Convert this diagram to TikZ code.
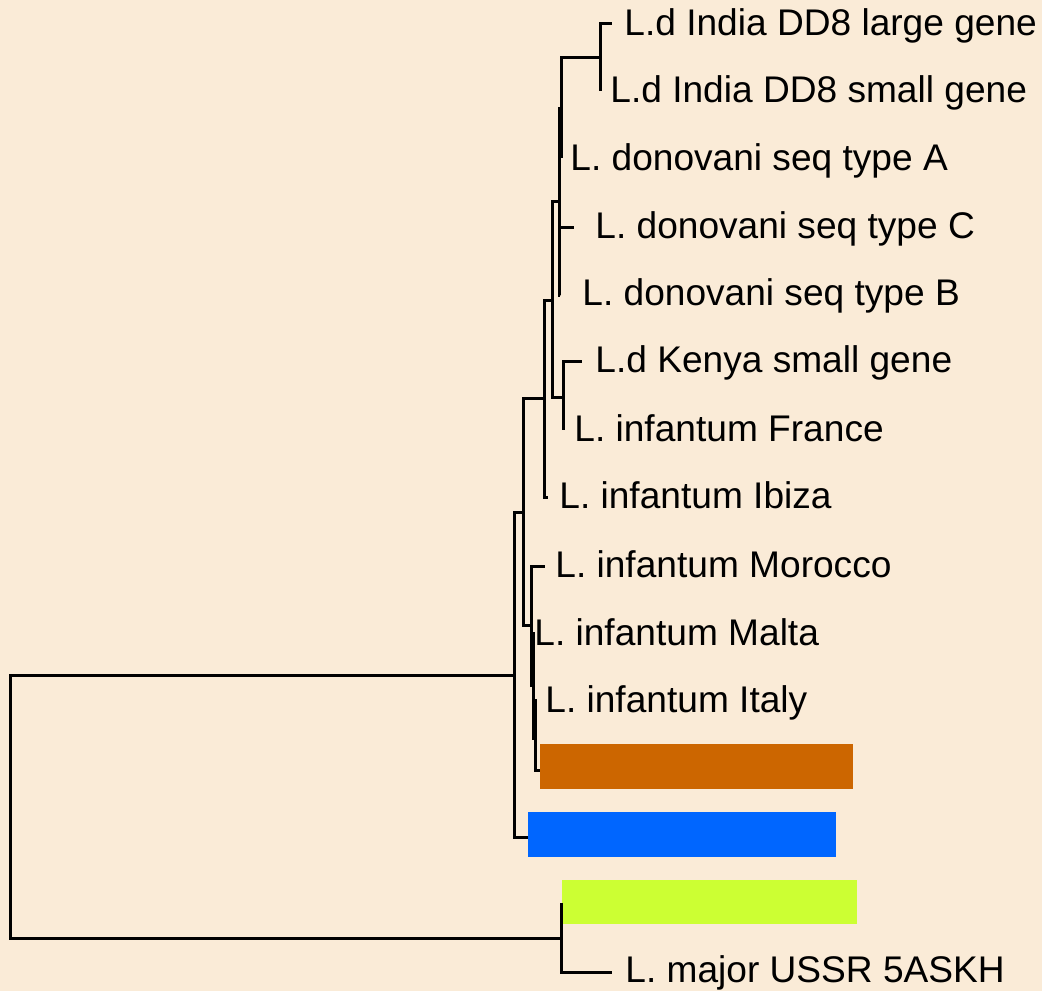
\documentclass[tikz,border=0pt]{standalone}
\usepackage{fontspec}
\setmainfont{Liberation Sans}
\definecolor{paper}{RGB}{250,235,215}
\definecolor{smallvar}{RGB}{204,102,0}
\definecolor{largevar}{RGB}{0,102,255}
\definecolor{limevar}{RGB}{204,255,51}
\begin{document}
\begin{tikzpicture}[x=0.5pt,y=-0.5pt,
  branch/.style={line width=1.5pt, line join=miter},
  taxon/.style={anchor=base west, inner sep=0pt, text=black,
    font=\fontsize{18.55}{22}\selectfont}]
% page and background
\fill[paper] (0,0) rectangle (1042,991);
\useasboundingbox (0,0) rectangle (1042,991);

% coloured bars for the gene variants
\fill[smallvar] (540,744) rectangle (853,789);
\fill[largevar] (528,812) rectangle (836,857);
\fill[limevar]  (562,880) rectangle (857,924);

% internal nodes
\coordinate (root) at (10,807);
\coordinate (nA)   at (514,675);
\coordinate (nB)   at (561,938);
\coordinate (n1)   at (523,512);
\coordinate (n2)   at (544,398);
\coordinate (n3)   at (531,625);
\coordinate (n4)   at (552,300);
\coordinate (n5)   at (559,201);
\coordinate (n6)   at (563,397);
\coordinate (n7)   at (561,108);
\coordinate (n9)   at (600,57);
\coordinate (n10)  at (533,685);
\coordinate (n11)  at (535,738);

% branch tips
\coordinate (tLarge)   at (612,23);
\coordinate (tSmall)   at (600,91);
\coordinate (tA)       at (561,158);
\coordinate (tC)       at (574,227);
\coordinate (tB)       at (560,295);
\coordinate (tKenya)   at (582,361);
\coordinate (tFrance)  at (563,430);
\coordinate (tIbiza)   at (548,497);
\coordinate (tMorocco) at (545,566);
\coordinate (tMalta)   at (533,632);
\coordinate (tItaly)   at (537,700);
\coordinate (tOrange)  at (540,770);
\coordinate (tBlue)    at (528,837);
\coordinate (tLime)    at (561,903);
\coordinate (tMajor)   at (612,972);

% branches
\draw[branch] (root) |- (nA);
\draw[branch] (root) |- (nB);
\draw[branch] (nB) |- (tLime);
\draw[branch] (nB) |- (tMajor);
\draw[branch] (nA) |- (n1);
\draw[branch] (nA) |- (tBlue);
\draw[branch] (n1) |- (n2);
\draw[branch] (n1) |- (n3);
\draw[branch] (n2) |- (n4);
\draw[branch] (n2) |- (tIbiza);
\draw[branch] (n4) |- (n5);
\draw[branch] (n4) |- (n6);
\draw[branch] (n6) |- (tKenya);
\draw[branch] (n6) |- (tFrance);
\draw[branch] (n5) |- (n7);
\draw[branch] (n5) |- (tC);
\draw[branch] (n5) |- (tB);
\draw[branch] (n7) |- (n9);
\draw[branch] (n7) |- (tA);
\draw[branch] (n9) |- (tLarge);
\draw[branch] (n9) |- (tSmall);
\draw[branch] (n3) |- (tMorocco);
\draw[branch] (n3) |- (n10);
\draw[branch] (n10) |- (tMalta);
\draw[branch] (n10) |- (n11);
\draw[branch] (n11) |- (tItaly);
\draw[branch] (n11) |- (tOrange);

% taxon labels
\node[taxon] (lLarge)   at (624,35)  {L.d India DD8 large gene};
\node[taxon] (lSmall)   at (610,102) {L.d India DD8 small gene};
\node[taxon] (lA)       at (570,170) {L. donovani seq type A};
\node[taxon] (lC)       at (595,238) {L. donovani seq type C};
\node[taxon] (lB)       at (582,305) {L. donovani seq type B};
\node[taxon] (lKenya)   at (595,372) {L.d Kenya small gene};
\node[taxon] (lFrance)  at (574,441) {L. infantum France};
\node[taxon] (lIbiza)   at (559,508) {L. infantum Ibiza};
\node[taxon] (lMorocco) at (555,577) {L. infantum Morocco};
\node[taxon] (lMalta)   at (534,645) {L. infantum Malta};
\node[taxon] (lItaly)   at (545,712) {L. infantum Italy};
\node[taxon] (lMajor)   at (625,982) {L. major USSR 5ASKH};
\end{tikzpicture}
\end{document}
